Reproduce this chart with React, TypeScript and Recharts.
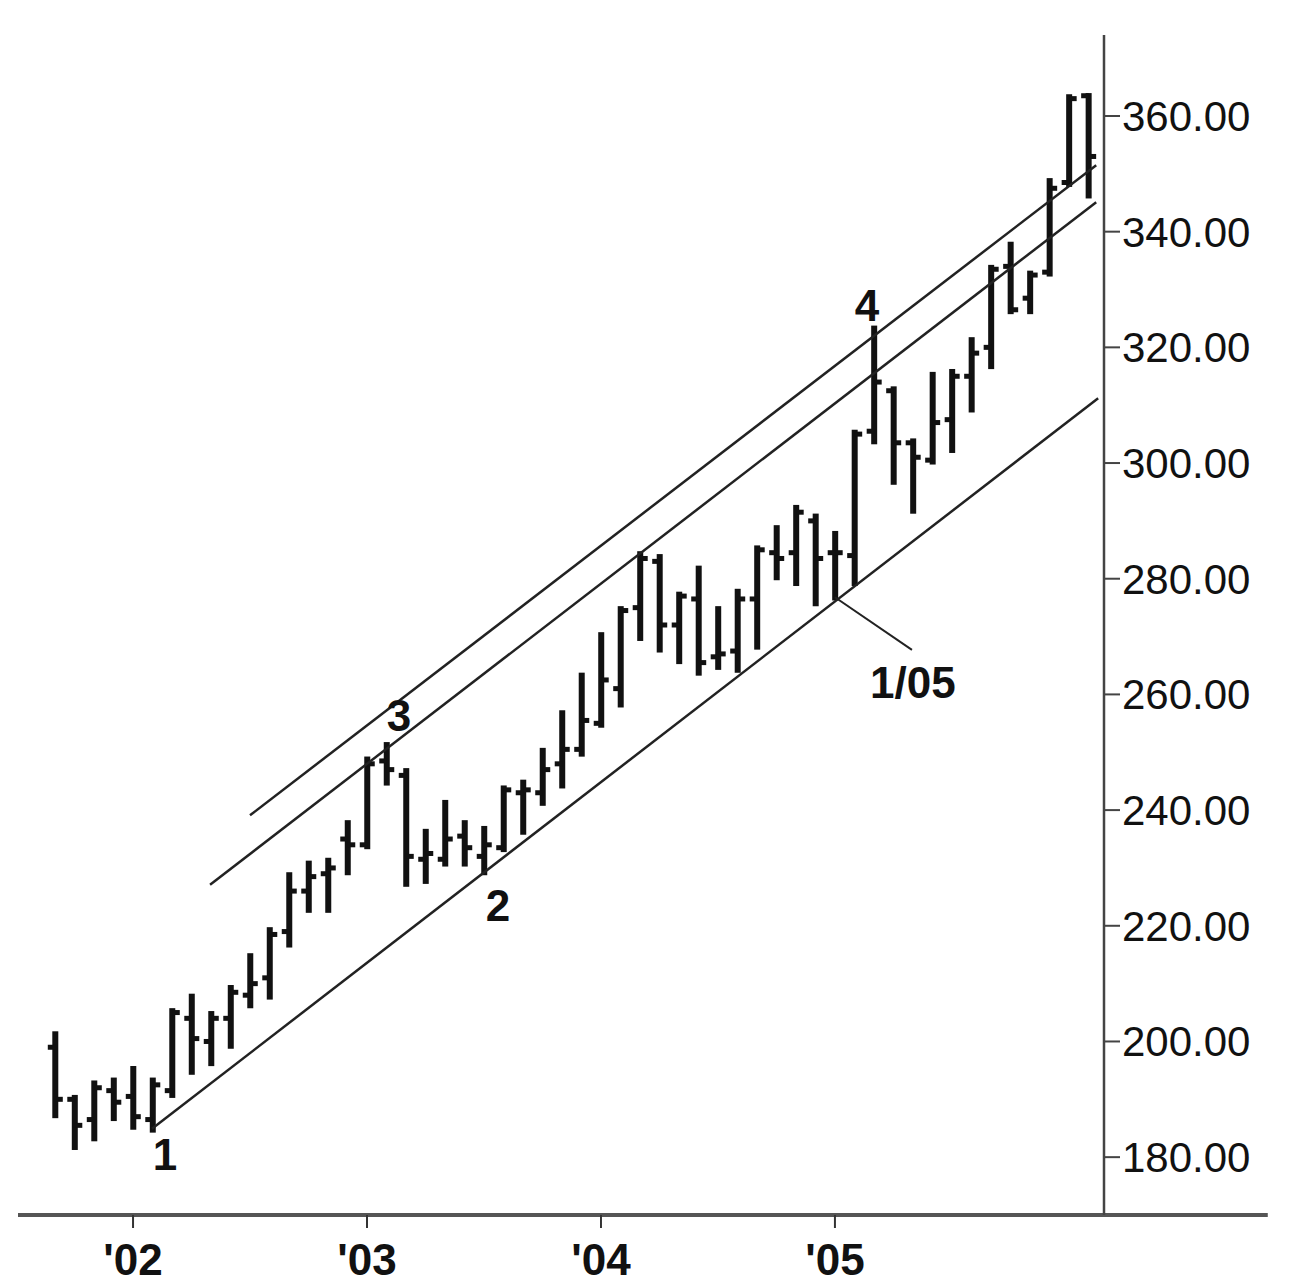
import { ComposedChart, Bar, XAxis, YAxis, ReferenceLine, ReferenceDot } from 'recharts';

// monthly bars, Sep 2001 .. Feb 2006 (index 0 = Jan 2002)
const firstMonth = -4;
const months = [
  'Sep01', 'Oct01', 'Nov01', 'Dec01',
  'Jan02', 'Feb02', 'Mar02', 'Apr02', 'May02', 'Jun02', 'Jul02', 'Aug02', 'Sep02', 'Oct02', 'Nov02', 'Dec02',
  'Jan03', 'Feb03', 'Mar03', 'Apr03', 'May03', 'Jun03', 'Jul03', 'Aug03', 'Sep03', 'Oct03', 'Nov03', 'Dec03',
  'Jan04', 'Feb04', 'Mar04', 'Apr04', 'May04', 'Jun04', 'Jul04', 'Aug04', 'Sep04', 'Oct04', 'Nov04', 'Dec04',
  'Jan05', 'Feb05', 'Mar05', 'Apr05', 'May05', 'Jun05', 'Jul05', 'Aug05', 'Sep05', 'Oct05', 'Nov05', 'Dec05',
  'Jan06', 'Feb06',
];
const opens = [
  199, 190, 186.5, 191.5,
  190.5, 186.5, 191.5, 204, 200, 204, 208, 211, 219, 226, 229, 235,
  234, 248.5, 246, 231.5, 231.5, 235.5, 232, 233.5, 243, 243, 248, 250.5,
  255, 261, 275, 283, 272, 276.5, 266.5, 267.5, 276.5, 284.5, 284.5, 290,
  284.5, 284, 305.5, 312.5, 303.5, 300.5, 307.5, 315, 320, 334, 328.5, 333,
  348.5, 363.5,
];
const highs = [
  201.5, 190.5, 193, 193.5,
  195.5, 193.5, 205.5, 208, 205, 209.5, 215, 219.5, 229, 231, 231.5, 238,
  249, 251.5, 247, 236.5, 241.5, 238, 237, 244, 245, 250.5, 257, 263.5,
  270.5, 275, 284.5, 284, 277.5, 282, 275, 278, 285.5, 289, 292.5, 291,
  288, 305.5, 323.5, 313, 304, 315.5, 316, 321.5, 334, 338, 333, 349,
  363.5, 363.7,
];
const lows = [
  187, 181.5, 183, 186.5,
  185, 184.5, 190.5, 194.5, 196, 199, 206, 207.5, 216.5, 222.5, 222.5, 229,
  233.5, 244.5, 227, 227.5, 230.5, 230.5, 229, 233, 236, 241, 244, 249.5,
  254.5, 258, 269.5, 267.5, 265.5, 263.5, 264.5, 264, 268, 280, 279, 275.5,
  276.5, 279, 303.5, 296.5, 291.5, 300, 302, 309, 316.5, 326, 326, 332.5,
  348, 346,
];
const closes = [
  190, 185.5, 192, 189.5,
  187, 192.5, 205, 200.5, 204, 208.5, 210, 218.5, 226, 228.5, 230, 234,
  248, 247, 232, 232.5, 235, 233.5, 234, 243.5, 243.5, 247, 250.5, 255.5,
  262.5, 274.5, 283.5, 272, 277, 265.5, 267, 276.5, 285, 283.5, 291.5, 283.5,
  284.5, 305, 314, 303.5, 301, 307, 315, 319, 333.5, 326.5, 332.5, 347.5,
  363, 353,
];

const yearTicks = [0, 12, 24, 36];
const yearLabels = ["'02", "'03", "'04", "'05"];
const priceTicks = [180, 200, 220, 240, 260, 280, 300, 320, 340, 360];

// trend channel lines: [x1, y1, x2, y2] in (month index, price)
const channels = [
  [0.97, 184.9, 49.5, 311.2],
  [3.95, 227.1, 49.4, 345.1],
  [6.0, 239.1, 49.4, 351.5],
];
const pointer = [36.0, 276.8, 39.95, 267.7];

const notes = [
  { text: '1', m: 1.64, v: 180.4 },
  { text: '2', m: 18.72, v: 223.6 },
  { text: '3', m: 13.64, v: 256.4 },
  { text: '4', m: 37.64, v: 327.2 },
  { text: '1/05', m: 40.0, v: 262.1 },
];

const data = months.map((name, i) => ({
  name,
  m: firstMonth + i,
  o: opens[i],
  h: highs[i],
  l: lows[i],
  c: closes[i],
  range: [lows[i], highs[i]],
}));

const ink = '#111';
const font = '"Liberation Sans", Arial, sans-serif';

function OhlcBar(props: any) {
  const { x, y, width, height, payload } = props;
  const top = Math.min(y, y + height);
  const bot = Math.max(y, y + height);
  const span = payload.h - payload.l || 1;
  const at = (v: number) => top + ((payload.h - v) / span) * (bot - top);
  const cx = x + width / 2;
  const yo = at(payload.o);
  const yc = at(payload.c);
  return (
    <g fill={ink}>
      <rect x={cx - 3} y={top - 1.5} width={6} height={bot - top + 3} />
      <rect x={cx - 7.5} y={yo - 2.5} width={7.5} height={5} />
      <rect x={cx} y={yc - 2.5} width={7.5} height={5} />
    </g>
  );
}

export default function App() {
  return (
    <div style={{ position: 'absolute', left: 0, top: 0, background: '#fff' }}>
      <ComposedChart
        width={1308}
        height={1284}
        data={data}
        margin={{ top: 35, right: 40, bottom: 0, left: 18 }}
      >
        <XAxis
          dataKey="m"
          type="number"
          domain={[-5.9, 49.8]}
          allowDataOverflow
          ticks={yearTicks}
          tickFormatter={(v: number) => yearLabels[yearTicks.indexOf(v)]}
          height={69}
          axisLine={false}
          tickLine={{ stroke: '#333', strokeWidth: 2 }}
          tickSize={13}
          tickMargin={16}
          tick={{ fontSize: 44, fill: ink, fontWeight: 'bold', fontFamily: font }}
        />
        <YAxis
          orientation="right"
          domain={[170, 374]}
          allowDataOverflow
          ticks={priceTicks}
          tickFormatter={(v: number) => v.toFixed(2)}
          width={164}
          axisLine={{ stroke: '#444', strokeWidth: 2.5 }}
          tickLine={{ stroke: '#444', strokeWidth: 2 }}
          tickSize={16}
          tickMargin={2}
          tick={{ fontSize: 42, fill: ink, fontFamily: font }}
        />
        <ReferenceLine
          segment={[{ x: -5.9, y: 170 }, { x: 58.2, y: 170 }]}
          ifOverflow="visible"
          stroke="#555"
          strokeWidth={4}
        />
        {channels.map((c, i) => (
          <ReferenceLine
            key={i}
            segment={[{ x: c[0], y: c[1] }, { x: c[2], y: c[3] }]}
            ifOverflow="visible"
            stroke="#222"
            strokeWidth={2.5}
          />
        ))}
        <ReferenceLine
          segment={[{ x: pointer[0], y: pointer[1] }, { x: pointer[2], y: pointer[3] }]}
          ifOverflow="visible"
          stroke="#222"
          strokeWidth={2}
        />
        <Bar dataKey="range" barSize={14} shape={<OhlcBar />} isAnimationActive={false} />
        {notes.map((n) => (
          <ReferenceDot
            key={n.text}
            x={n.m}
            y={n.v}
            r={0}
            ifOverflow="visible"
            fill="none"
            stroke="none"
            label={{ value: n.text, position: 'center', fontSize: 44, fontWeight: 'bold', fill: ink, fontFamily: font }}
          />
        ))}
      </ComposedChart>
    </div>
  );
}
